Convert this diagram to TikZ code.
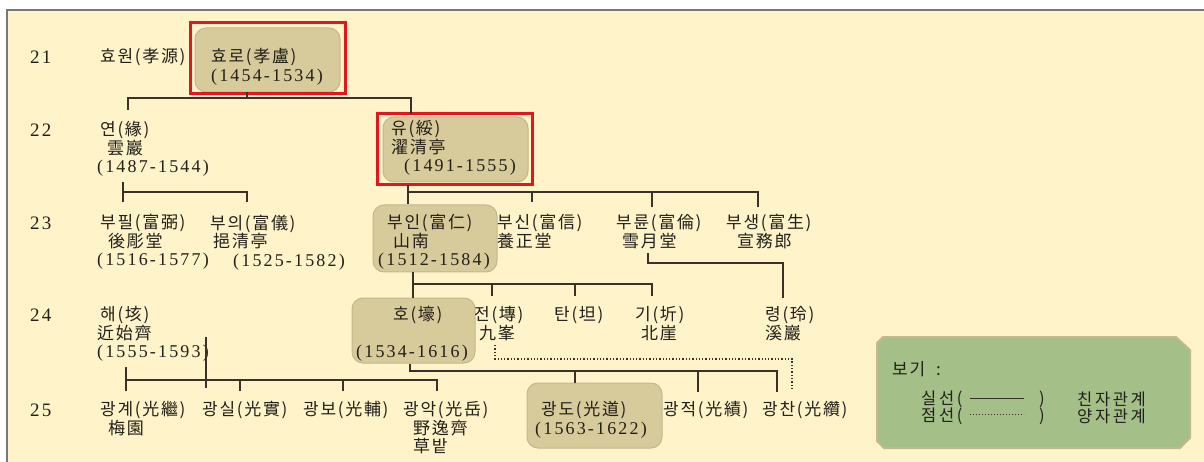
\documentclass[tikz,border=0pt]{standalone}
\usepackage{fontspec}
\newfontfamily\cjk[LetterSpace=10]{Noto Sans CJK KR}
\newfontfamily\cjkwide[LetterSpace=16]{Noto Sans CJK KR}
\newfontfamily\yrfont[LetterSpace=12]{Liberation Serif}
\newcommand\yr[1]{{\yrfont\fontsize{18}{18.5}\selectfont #1}}
\definecolor{cream}{RGB}{255,244,201}
\definecolor{framec}{RGB}{120,120,120}
\definecolor{boxfill}{RGB}{216,203,155}
\definecolor{boxline}{RGB}{196,182,138}
\definecolor{redc}{RGB}{226,22,30}
\definecolor{linec}{RGB}{58,50,40}
\definecolor{textc}{RGB}{35,31,26}
\definecolor{legfill}{RGB}{164,191,136}
\definecolor{legline}{RGB}{198,184,142}
\tikzset{
  txt/.style={inner sep=0pt, align=left, anchor=north west, text=textc,
    font=\cjk\fontsize{17}{18.5}\selectfont},
  one/.style={inner sep=0pt, anchor=west, text=textc,
    font=\cjk\fontsize{17}{18.5}\selectfont},
  leg/.style={inner sep=0pt, anchor=west, text=textc,
    font=\cjkwide\fontsize{16.5}{17}\selectfont},
  gen/.style={inner sep=0pt, anchor=west, text=textc,
    font=\yrfont\fontsize{19}{18.5}\selectfont},
  famebox/.style={draw=boxline, fill=boxfill, rounded corners=11pt, line width=1pt, inner sep=0pt},
  redbox/.style={draw=redc, line width=3pt},
  conn/.style={draw=linec, line width=1.3pt},
  adopt/.style={draw=linec, line width=1.3pt, dotted},
}
\begin{document}
\begin{tikzpicture}[x=1pt,y=-1pt]
\useasboundingbox (0,0) rectangle (1204,462);
% background and frame
\fill[white] (0,0) rectangle (1204,462);
\fill[cream] (7,10) rectangle (1204,462);
\draw[framec, line width=1.5pt] (7,462) -- (7,10) -- (1204,10);

% boxes
\node[famebox, minimum width=145pt, minimum height=64pt] (hyoroBox) at (267.5,60) {};
\node[famebox, minimum width=145pt, minimum height=65pt] (yuBox) at (455.5,149.5) {};
\node[famebox, minimum width=124pt, minimum height=67pt] (buinBox) at (435,238.5) {};
\node[famebox, minimum width=123pt, minimum height=65pt] (hoBox) at (413.5,330.5) {};
\node[famebox, minimum width=135pt, minimum height=65pt] (gwangdoBox) at (594.5,415.5) {};
\draw[redbox] (190,23) rectangle (345,94);
\draw[redbox] (377,114) rectangle (532,185);

% generation numbers
\node[gen] (g21) at (30,57) {21};
\node[gen] (g22) at (30,130) {22};
\node[gen] (g23) at (30,223) {23};
\node[gen] (g24) at (30,315) {24};
\node[gen] (g25) at (30,410) {25};

% generation 21
\node[one] (hyowon) at (100,57) {효원(孝源)};
\node[txt] (hyoro) at (211,48.5) {효로(孝盧)\\\yr{(1454-1534)}};

% generation 22
\node[txt] (yeon) at (97,121.5) {\hspace*{3pt}연(緣)\\\hspace*{10pt}雲巖\\\yr{(1487-1544)}};
\node[txt] (yu) at (391,120.5) {유(綏)\\濯清亭\\\hspace*{13pt}\yr{(1491-1555)}};

% generation 23
\node[txt] (bupil) at (97,214.5) {\hspace*{3pt}부필(富弼)\\\hspace*{11pt}後彫堂\\\yr{(1516-1577)}};
\node[txt] (bui) at (210,214.5) {부의(富儀)\\\hspace*{3pt}挹清亭\\\hspace*{23pt}\yr{(1525-1582)}};
\node[txt] (buin) at (378,214.5) {\hspace*{9pt}부인(富仁)\\\hspace*{15pt}山南\\\yr{(1512-1584)}};
\node[txt] (busin) at (497,214.5) {부신(富信)\\養正堂};
\node[txt] (buryun) at (616,214.5) {부륜(富倫)\\\hspace*{6pt}雪月堂};
\node[txt] (busaeng) at (726,214.5) {부생(富生)\\\hspace*{11pt}宣務郎};

% generation 24
\node[txt] (hae) at (97,306.5) {\hspace*{3pt}해(垓)\\近始齊\\\yr{(1555-1593)}};
\node[txt] (ho) at (356,306.5) {\hspace*{37pt}호(壕)\\[18.5pt]\yr{(1534-1616)}};
\node[txt] (jeon) at (474,306.5) {전(塼)\\\hspace*{5pt}九峯};
\node[one] (tan) at (554,315) {탄(坦)};
\node[txt] (gi) at (635,306.5) {기(圻)\\\hspace*{6pt}北崖};
\node[txt] (ryeong) at (765,306.5) {령(玲)\\溪巖};

% generation 25
\node[txt] (gwanggye) at (97,401.5) {\hspace*{3pt}광계(光繼)\\\hspace*{11pt}梅園};
\node[one] (gwangsil) at (202,410) {광실(光實)};
\node[one] (gwangbo) at (303,410) {광보(光輔)};
\node[txt] (gwangak) at (403,401.5) {광악(光岳)\\\hspace*{10pt}野逸齊\\\hspace*{10pt}草밭};
\node[txt] (gwangdo) at (535,401.5) {\hspace*{6pt}광도(光道)\\\yr{(1563-1622)}};
\node[one] (gwangjeok) at (663,410) {광적(光績)};
\node[one] (gwangchan) at (762,410) {광찬(光纘)};

% connectors: 21 -> 22
\coordinate (b21) at (247,98);
\draw[conn] (hyoroBox.south -| b21) -- (b21);
\draw[conn] (128,110) -- (128,98) -- (411,98) -- (411,114);
% 22 -> 23 (yeon)
\draw[conn] (123,182) -- (123,202);
\draw[conn] (123,192) -- (247,192) -- (247,202);
% 22 -> 23 (yu)
\coordinate (b22) at (408,192);
\draw[conn] (408,185) -- (buinBox.north -| b22);
\draw[conn] (b22) -- (758,192) -- (758,207);
\draw[conn] (532,192) -- (532,202);
\draw[conn] (652,192) -- (652,207);
% 23 -> 24 (buin)
\coordinate (b23) at (413,284);
\draw[conn] (buinBox.south -| b23) -- (hoBox.north -| b23);
\draw[conn] (b23) -- (652,284) -- (652,296);
\draw[conn] (492,284) -- (492,296);
\draw[conn] (575,284) -- (575,296);
% 23 -> 24 (buryun -> ryeong)
\draw[conn] (648,253) -- (648,263) -- (783,263) -- (783,298);
% 24 -> 25 (ho)
\coordinate (b24) at (410,371);
\draw[conn] (hoBox.south -| b24) -- (b24) -- (777,371) -- (777,392);
\draw[conn] (575,371) -- (gwangdoBox.north -| 575,0);
\draw[conn] (698,371) -- (698,392);
% adoption (dotted)
\draw[adopt] (495,345) -- (495,359) -- (792,359) -- (792,389);
% 24 -> 25 (hae)
\draw[conn] (126,367) -- (126,391);
\draw[conn] (126,380) -- (437,380) -- (437,391);
\draw[conn] (206,337) -- (206,388);
\draw[conn] (240,380) -- (240,391);
\draw[conn] (343,380) -- (343,391);

% legend
\draw[legline, fill=legfill, line width=2pt]
  (883,337) -- (1176,337) -- (1190,350) -- (1190,438) -- (1180,448)
  -- (884,448) -- (877,441) -- (877,343) -- cycle;
\node[one] (legtitle) at (892,369) {보기\ \ :};
\node[leg] (solidlab) at (921,399) {실선(};
\node[leg] (solidend) at (1039,399) {)};
\node[leg] (dotlab) at (921,416) {점선(};
\node[leg] (dotend) at (1039,416) {)};
\draw[linec, line width=1pt] (970,398) -- (1024,398);
\draw[linec, line width=1pt, dotted] (970,414) -- (1024,414);
\node[leg] (biolab) at (1077,399) {친자관계};
\node[leg] (adlab) at (1077,416) {양자관계};
\end{tikzpicture}
\end{document}
